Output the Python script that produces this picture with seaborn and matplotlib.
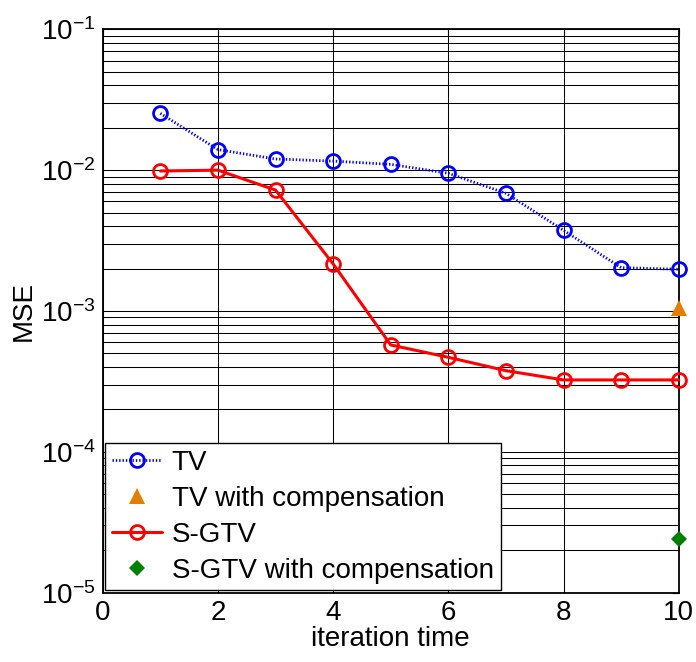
import matplotlib
matplotlib.use("Agg")
import matplotlib.pyplot as plt
import matplotlib.ticker as mticker
import numpy as np
import pandas as pd
import seaborn as sns

# MSE per iteration for each reconstruction method
iterations = [1, 2, 3, 4, 5, 6, 7, 8, 9, 10]
mse_tv = [0.0253, 0.0140, 0.0120, 0.0116, 0.0110, 0.0095, 0.00685, 0.00374, 0.00203, 0.00198]
mse_sgtv = [0.00987, 0.0100, 0.00722, 0.00216, 0.000574, 0.000469, 0.000377, 0.000324, 0.000324, 0.000324]
comp_iteration = [10]
mse_tv_comp = [0.00105]
mse_sgtv_comp = [2.39e-5]

series_names = ["TV", "TV with compensation", "S-GTV", "S-GTV with compensation"]

sns.set_style("white")
plt.rcParams["font.family"] = ["Liberation Sans", "DejaVu Sans"]
plt.rcParams["mathtext.fontset"] = "custom"
plt.rcParams["mathtext.rm"] = "Liberation Sans"
plt.rcParams["mathtext.it"] = "Liberation Sans:italic"
plt.rcParams["mathtext.default"] = "regular"
plt.rcParams["axes.unicode_minus"] = False
for key in ["text.color", "axes.labelcolor", "xtick.color", "ytick.color", "axes.edgecolor"]:
    plt.rcParams[key] = "black"

fs = 20

fig = plt.figure(figsize=(6.96, 6.62), dpi=100)
ax = fig.add_axes([0.1476, 0.1047, 0.8276, 0.8510])

tv = pd.DataFrame({"it": iterations, "mse": mse_tv})
sg = pd.DataFrame({"it": iterations, "mse": mse_sgtv})
tvc = pd.DataFrame({"it": comp_iteration, "mse": mse_tv_comp})
sgc = pd.DataFrame({"it": comp_iteration, "mse": mse_sgtv_comp})

sns.lineplot(data=tv, x="it", y="mse", ax=ax, color="#0000ff", lw=2.0,
             linestyle=(0, (0.5, 0.7)), marker="o", markersize=10,
             markerfacecolor="none", markeredgecolor="#0000ff",
             markeredgewidth=2.0, label=series_names[0], zorder=5, clip_on=False)
sns.lineplot(data=tvc, x="it", y="mse", ax=ax, color="#e07f00", lw=0,
             marker="^", markersize=11, markeredgewidth=0,
             label=series_names[1], zorder=6, clip_on=False)
sns.lineplot(data=sg, x="it", y="mse", ax=ax, color="#ff0000", lw=2.2,
             marker="o", markersize=10, markerfacecolor="none",
             markeredgecolor="#ff0000", markeredgewidth=2.0,
             label=series_names[2], zorder=5, clip_on=False)
sns.lineplot(data=sgc, x="it", y="mse", ax=ax, color="#008000", lw=0,
             marker="D", markersize=8.5, markeredgewidth=0,
             label=series_names[3], zorder=6, clip_on=False)

ax.set_yscale("log")
ax.set_xlim(0, 10)
ax.set_ylim(1e-5, 1e-1)
ax.set_xticks([0, 2, 4, 6, 8, 10])
ax.yaxis.set_major_locator(mticker.LogLocator(base=10, numticks=10))
ax.yaxis.set_minor_locator(mticker.LogLocator(base=10, subs=np.arange(2, 10), numticks=20))
ax.yaxis.set_minor_formatter(mticker.NullFormatter())
ax.yaxis.set_major_formatter(mticker.FuncFormatter(
    lambda v, p: r"$10^{%d}$" % int(round(np.log10(v)))))

ax.grid(True, which="major", axis="both", color="black", lw=0.75)
ax.grid(True, which="minor", axis="y", color="black", lw=0.75)
ax.set_axisbelow(True)

ax.tick_params(which="both", direction="in", top=True, right=True,
               labelsize=fs, color="black", labelcolor="black", width=0.8)
ax.tick_params(which="major", length=5, pad=5)
ax.tick_params(which="minor", length=3)
for s in ax.spines.values():
    s.set_color("black")
    s.set_linewidth(1.3)

ax.set_xlabel("iteration time", fontsize=fs, labelpad=0)
ax.set_ylabel("MSE", fontsize=fs, labelpad=3)

leg = ax.legend(loc="lower left", fontsize=fs, frameon=True, fancybox=False,
                framealpha=1, edgecolor="black", handlelength=1.8,
                handletextpad=0.35, borderpad=0.25, labelspacing=0.36,
                borderaxespad=0.08)
leg.get_frame().set_linewidth(1.0)
leg.set_zorder(10)
for t in leg.get_texts():
    t.set_color("black")

fig.savefig("out.png", dpi=100)
